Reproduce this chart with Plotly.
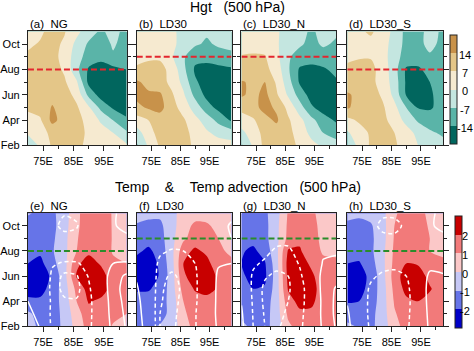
import plotly.graph_objects as go

# ---------------- data ----------------
lon = [70, 74, 78, 82, 86, 90, 94, 98, 102.5]
# rows below are listed from Nov (top row of a panel) down to Feb
months_top_down = [11, 10, 9, 8, 7, 6, 5, 4, 3, 2]

panel_names = ["NG", "LD30", "LD30_N", "LD30_S"]
top_letters = ["(a)", "(b)", "(c)", "(d)"]
bottom_letters = ["(e)", "(f)", "(g)", "(h)"]
onset_month = [8, 9, 9, 8]          # dashed horizontal reference line (Aug / Sep)

month_ticks = [2, 4, 6, 8, 10]
month_labels = ["Feb", "Apr", "Jun", "Aug", "Oct"]
month_minor = [3, 5, 7, 9]
lon_ticks = [75, 85, 95]
lon_labels = ["75E", "85E", "95E"]
lon_minor = [80, 90, 100]

hgt_levels = [-14, -7, 0, 7, 14]
temp_levels = [-2, -1, 0, 1, 2]
adv_neg_levels = [-2, -1]
adv_pos_levels = [1, 2]

hgt_NG = [
    [5, 6, 9, 7.5, 2, -4, -8, -5, -9],
    [6, 7.5, 9, 6, -2, -8, -11, -6, -10],
    [8, 9, 9, 5, -4, -10, -12, -8, -11],
    [9, 10, 10, 6, -5, -15, -17, -16, -14],
    [9, 10, 11, 8, 1, -16, -18, -17, -16],
    [8, 9, 12, 10, 5, -9, -17, -18, -17],
    [8, 10, 14.5, 11, 8, 1, -9, -15, -17],
    [5, 6, 16, 11, 9, 5, -1, -7, -13],
    [1, 4, 9, 10, 9, 6, 3, 0, -6],
    [-5, 1, 8, 10, 9, 5, 3, 2, 1],
]
hgt_LD30 = [
    [4, 4, 4, 2, -3, -5, -6, -5, -4],
    [4, 5, 5, 2, -3, -6, -8, -6, -5],
    [5, 6, 6, 1, -6, -12, -11, -10, -9],
    [8, 9, 9, 5, -5, -15, -17, -16, -15],
    [15, 12, 10, 5, -2, -13, -17, -18, -17],
    [16, 15, 15, 8, 1, -9, -16, -18, -17],
    [12, 15, 16, 10, 4, -3, -11, -16, -17],
    [4, 7, 11, 11, 8, 2, -3, -9, -15],
    [-3, 4, 10, 11, 9, 5, 1, -2, -4],
    [-8, 1, 8, 11, 9, 6, 4, 3, 3],
]
hgt_LD30_N = [
    [3, 3, 3, 1, -3, -5, -8, -5, -6],
    [4, 4, 4, 1, -4, -6, -9, -6, -8],
    [7.5, 8, 7.5, 2, -6, -10, -11, -10, -9],
    [10, 10, 9, 4, -6, -15, -16, -15, -12],
    [14.5, 13, 14, 6, -4, -15, -18, -16, -15],
    [15, 12, 16, 8, -1, -10, -17, -18, -16],
    [9, 12, 16, 13, 5, -4, -13, -17, -17],
    [4, 6, 12, 15, 8, 2, -5, -11, -15],
    [-2, 4, 9, 11, 9, 4, -2, -7, -10],
    [-8, 1, 9, 10, 9, 6, 2, -1, -4],
]
hgt_LD30_S = [
    [4, 6, 8, 4, -2, -9, -9, -5, -8],
    [4, 5, 5, 3, -3, -9, -9, -5, -9],
    [6, 6.5, 6.5, 3, -4, -10, -11, -8, -10],
    [8, 9, 9, 4, -4, -15, -15, -12, -11],
    [10, 10, 9, 4, -3, -15, -17, -14, -12],
    [15, 12, 10, 6, -2, -14.5, -18, -15, -11],
    [15, 11, 10, 8, 2, -7, -14.5, -15, -11],
    [5, 8, 9, 9, 4, -2, -8, -10, -9],
    [-1, 4, 8, 9, 7, 3, -2, -6, -8],
    [-6, 2, 8, 9, 8, 4, 0, -3, -5],
]

temp_NG = [
    [-0.9, -1.2, -1.2, -0.5, 0.8, 1.5, 1.6, 0.9, 0.6],
    [-1.5, -1.5, -1.3, -0.4, 0.8, 1.6, 1.7, 0.9, 0.6],
    [-1.6, -1.6, -1.2, -0.3, 0.9, 1.7, 1.8, 0.9, 0.6],
    [-1.7, -1.8, -1.1, -0.3, 1.0, 1.8, 1.7, 0.9, 0.7],
    [-2.0, -2.3, -1.3, -0.4, 1.8, 2.4, 1.9, 1.2, 1.0],
    [-2.6, -2.6, -1.8, -0.4, 2.1, 2.6, 2.4, 1.5, 1.3],
    [-2.4, -2.4, -1.6, -0.5, 1.3, 2.4, 2.5, 1.6, 1.3],
    [-1.8, -1.8, -1.5, -0.6, 1.0, 2.1, 1.8, 1.5, 1.3],
    [-0.8, -1.4, -1.5, -0.7, 0.6, 1.6, 1.7, 1.3, 1.0],
    [-0.6, -1.2, -1.4, -0.8, 0.4, 1.4, 1.6, 0.9, 0.6],
]
temp_LD30 = [
    [-0.6, -0.7, -0.8, -0.3, 0.4, 0.6, 0.7, 0.6, 0.5],
    [-1.1, -1.3, -1.2, -0.4, 0.6, 1.2, 1.1, 0.8, 0.6],
    [-1.5, -1.6, -1.4, -0.3, 0.8, 1.5, 1.5, 1.0, 0.7],
    [-1.8, -2.2, -1.6, -0.3, 1.6, 2.2, 1.8, 1.1, 0.9],
    [-2.4, -2.6, -1.8, -0.4, 2.0, 2.6, 2.3, 1.4, 1.1],
    [-2.5, -2.6, -1.9, -0.5, 1.8, 2.6, 2.6, 1.8, 1.3],
    [-2.1, -2.1, -1.7, -0.5, 1.4, 2.1, 2.3, 1.9, 1.4],
    [-1.7, -1.6, -1.5, -0.6, 1.0, 1.6, 1.7, 1.5, 1.3],
    [-1.5, -1.6, -1.5, -0.6, 0.8, 1.5, 1.6, 1.4, 1.2],
    [-1.3, -1.2, -0.9, -0.6, 0.6, 1.3, 1.5, 1.4, 1.2],
]
temp_LD30_N = [
    [-1.3, -1.4, -1.2, -0.4, 1.1, 1.4, 1.1, 0.8, 0.6],
    [-1.5, -1.6, -1.3, -0.3, 1.2, 1.6, 1.2, 0.8, 0.7],
    [-1.6, -1.7, -1.3, -0.3, 1.3, 1.8, 1.3, 0.8, 0.8],
    [-1.9, -2.2, -1.6, -0.3, 2.1, 2.1, 1.4, 0.9, 0.9],
    [-2.0, -2.6, -2.1, -0.4, 2.4, 2.5, 1.8, 1.2, 1.1],
    [-1.8, -2.4, -2.2, -0.5, 2.3, 2.7, 2.2, 1.4, 1.2],
    [-1.7, -2.0, -1.9, -0.5, 2.1, 2.6, 2.4, 1.5, 1.3],
    [-1.5, -1.6, -1.5, -0.5, 1.6, 2.3, 2.2, 1.5, 1.3],
    [-1.2, -1.4, -1.4, -0.5, 1.2, 1.8, 1.8, 1.4, 1.2],
    [-0.8, -1.2, -1.3, -0.6, 0.8, 1.4, 1.5, 1.3, 1.1],
]
temp_LD30_S = [
    [-0.7, -0.8, -0.7, -0.3, 0.9, 1.3, 1.3, 0.8, 0.6],
    [-1.2, -1.3, -1.1, -0.4, 1.0, 1.4, 1.4, 0.9, 0.7],
    [-1.4, -1.5, -1.2, -0.4, 1.1, 1.5, 1.5, 1.0, 0.8],
    [-1.5, -1.6, -1.2, -0.3, 1.2, 1.6, 1.6, 1.0, 0.9],
    [-2.0, -2.1, -1.4, -0.3, 1.3, 2.0, 1.9, 1.3, 1.1],
    [-2.6, -2.5, -1.7, -0.4, 1.5, 2.5, 2.5, 1.7, 1.3],
    [-2.5, -2.4, -1.6, -0.5, 1.3, 2.3, 2.6, 2.1, 1.4],
    [-2.1, -2.0, -1.5, -0.5, 1.1, 1.8, 2.0, 1.7, 1.3],
    [-1.4, -1.5, -1.3, -0.5, 0.9, 1.5, 1.6, 1.4, 1.2],
    [-0.8, -1.1, -1.2, -0.6, 0.7, 1.3, 1.4, 1.3, 1.1],
]

adv_NG = [
    [0, 0, -0.3, -0.9, -0.8, -0.2, 0.5, 0.9, 1.3],
    [0, 0, -0.6, -1.4, -1.1, -0.2, 0.4, 0.9, 1.3],
    [0, 0, -0.4, -0.5, -0.6, -0.1, 0.3, 0.6, 0.8],
    [0, 0, -0.3, -0.4, -0.3, 0, 0.2, 0.3, 0.4],
    [0.2, 0, -0.9, -1.1, -1.1, -0.7, 0.3, 1.0, 1.1],
    [0.4, 0.2, -1.2, -2.3, -2.1, -0.9, 0.4, 1.5, 2.2],
    [0.6, 0.1, -1.3, -2.4, -2.3, -1.2, 0.3, 1.6, 2.4],
    [1.0, 0.1, -1.2, -1.8, -1.9, -1.4, 0.2, 1.5, 2.3],
    [1.5, 0.4, -1.3, -1.6, -1.7, -1.4, 0.2, 1.4, 2.2],
    [1.9, 0.9, -1.3, -1.5, -1.6, -1.3, 0.1, 1.3, 2.1],
]
adv_LD30 = [
    [0, 0, 0, -0.2, -0.3, 0, 0.3, 0.5, 0.8],
    [0, 0, 0, -0.3, -0.4, 0, 0.4, 0.7, 1.1],
    [0, 0, -0.2, -0.4, -0.5, -0.2, 0.3, 0.6, 1.0],
    [0.2, 0, -0.8, -1.1, -1.0, -0.6, 0.2, 0.6, 0.8],
    [0.6, 0, -1.3, -1.6, -1.4, -1.0, 0.1, 0.9, 1.0],
    [0.9, 0.2, -1.6, -2.2, -1.7, -1.2, 0, 1.2, 1.3],
    [1.1, 0.3, -1.8, -2.4, -1.8, -1.2, -0.1, 1.3, 1.4],
    [1.3, 0.3, -1.9, -2.4, -1.7, -1.2, 0, 1.3, 1.5],
    [1.4, 0.4, -2.0, -2.3, -1.6, -1.1, 0.1, 1.3, 1.5],
    [1.5, 0.5, -2.0, -2.2, -1.6, -1.1, 0.1, 1.2, 1.5],
]
adv_LD30_N = [
    [0, 0, 0, -0.2, -0.3, -0.1, 0.2, 0.4, 0.5],
    [0, 0, -0.1, -0.3, -0.4, -0.2, 0.2, 0.5, 0.6],
    [0, -0.1, -0.3, -0.6, -0.7, -0.4, 0.1, 0.5, 0.6],
    [0, -0.3, -0.7, -1.2, -1.2, -0.6, 0.1, 0.8, 0.9],
    [0.1, -0.8, -1.2, -1.7, -1.6, -0.9, 0, 1.1, 1.2],
    [0.3, -1.2, -1.9, -2.2, -2.0, -1.2, -0.1, 1.4, 1.6],
    [0.6, -1.3, -2.2, -2.4, -2.1, -1.5, -0.2, 1.4, 2.1],
    [0.9, -1.2, -2.2, -2.3, -2.0, -1.5, -0.2, 1.3, 2.2],
    [1.2, -1.1, -2.1, -2.2, -1.9, -1.4, -0.1, 1.3, 2.2],
    [1.4, -1.0, -2.0, -2.1, -1.8, -1.3, 0, 1.2, 2.1],
]
adv_LD30_S = [
    [0, 0, -0.3, -0.8, -0.8, -0.3, 0.3, 0.8, 1.3],
    [0, 0, -0.6, -1.3, -1.3, -0.8, 0.2, 0.8, 1.4],
    [0, 0, -0.4, -0.7, -0.8, -0.5, 0, 0.4, 0.6],
    [0, 0, -0.2, -0.3, -0.3, -0.2, 0, 0.2, 0.3],
    [0.1, 0, -0.3, -0.6, -0.7, -0.5, 0.2, 0.7, 0.6],
    [0.3, -0.1, -0.8, -1.2, -1.3, -1.0, 0.2, 1.2, 1.1],
    [0.6, -0.2, -1.2, -1.7, -1.8, -1.4, 0.1, 1.4, 1.3],
    [0.9, -0.2, -1.3, -1.8, -1.9, -1.5, 0, 1.4, 1.3],
    [1.2, -0.2, -1.3, -1.8, -1.8, -1.4, 0, 1.3, 1.2],
    [1.4, -0.1, -1.2, -1.7, -1.7, -1.3, 0, 1.2, 1.2],
]

hgt_fields = [hgt_NG, hgt_LD30, hgt_LD30_N, hgt_LD30_S]
temp_fields = [temp_NG, temp_LD30, temp_LD30_N, temp_LD30_S]
adv_fields = [adv_NG, adv_LD30, adv_LD30_N, adv_LD30_S]

# ---------------- styling ----------------
W, H = 474, 351
FONT = "Liberation Sans, Arial, Helvetica, sans-serif"
HGT_COLORS = ["#01665e", "#5ab4a8", "#c4e6e0", "#f6ead0", "#e4c688", "#c8924a"]
TEMP_COLORS = ["#0000c8", "#6674e8", "#c6c8f6", "#fbc8c8", "#f27a7a", "#c80000"]
cols_px = [(27, 126), (136, 231), (241, 336), (347, 443)]
rows_px = [(32, 148), (217, 332)]
XR = [70, 102.5]
YR = [2, 11]
# colour bars: (left px, top px, bottom px, thickness px)
cbars_px = [(450, 36, 147, 7), (455, 220, 334, 7)]
CB_LABEL_X = 465


def scale(colors):
    return [[i / (len(colors) - 1), c] for i, c in enumerate(colors)]


months_asc = months_top_down[::-1]

fig = go.Figure()
layout = dict(
    width=W, height=H, margin=dict(l=0, r=0, t=0, b=0),
    paper_bgcolor="white", plot_bgcolor="white",
    font=dict(family=FONT, size=11, color="black"),
    showlegend=False,
)
ann = []

for k in range(8):
    r, c = divmod(k, 4)
    n = k + 1
    xa = "x" if n == 1 else f"x{n}"
    ya = "y" if n == 1 else f"y{n}"
    x0, x1 = cols_px[c]
    y0, y1 = rows_px[r]
    if r == 0:
        z = hgt_fields[c][::-1]
        lev = hgt_levels
        colors = HGT_COLORS
        hl_color = "#e3262e"
    else:
        z = temp_fields[c][::-1]
        lev = temp_levels
        colors = TEMP_COLORS
        hl_color = "#2a8c2a"
    step = lev[1] - lev[0]
    zmin, zmax = lev[0] - step, lev[-1] + step
    cb = None
    show = (c == 3)
    if show:
        bx, bt, bb, bw = cbars_px[r]
        cb = dict(thickness=bw, thicknessmode="pixels", len=(bb - bt) / H, lenmode="fraction",
                  x=bx / W, xanchor="left", xpad=0, y=1 - bt / H, yanchor="top", ypad=0,
                  outlinewidth=1, outlinecolor="#222", tickvals=lev, ticks="",
                  showticklabels=False)
        # centred colour-bar labels placed on the bar's own value scale
        for v in lev:
            ypx = bt + (zmax - v) / (zmax - zmin) * (bb - bt) + 1.5
            ann.append(dict(text=str(v), x=CB_LABEL_X / W, y=1 - ypx / H, xref="paper", yref="paper",
                            xanchor="center", yanchor="middle", showarrow=False,
                            font=dict(size=11, family=FONT)))
    fig.add_trace(go.Contour(
        x=lon, y=months_asc, z=z, xaxis=xa, yaxis=ya,
        colorscale=scale(colors), zauto=False, zmin=zmin, zmax=zmax,
        autocontour=False,
        contours=dict(start=lev[0], end=lev[-1], size=step, coloring="fill", showlines=False),
        line=dict(width=0, smoothing=0.8),
        showscale=show, colorbar=cb, hoverinfo="skip",
    ))
    if r == 1:
        za = adv_fields[c][::-1]
        fig.add_trace(go.Contour(
            x=lon, y=months_asc, z=za, xaxis=xa, yaxis=ya, autocontour=False,
            contours=dict(start=adv_neg_levels[0], end=adv_neg_levels[-1], size=1, coloring="none"),
            line=dict(color="white", width=1.5, dash="4px,3px", smoothing=0.8),
            showscale=False, hoverinfo="skip",
        ))
        fig.add_trace(go.Contour(
            x=lon, y=months_asc, z=za, xaxis=xa, yaxis=ya, autocontour=False,
            contours=dict(start=adv_pos_levels[0], end=adv_pos_levels[-1], size=1, coloring="none"),
            line=dict(color="white", width=1.5, smoothing=0.8),
            showscale=False, hoverinfo="skip",
        ))
    m = onset_month[c]
    fig.add_trace(go.Scatter(
        x=XR, y=[m, m], xaxis=xa, yaxis=ya, mode="lines",
        line=dict(color=hl_color, width=2, dash="6px,3px"), hoverinfo="skip",
    ))

    axcommon = dict(showgrid=False, zeroline=False, showline=True, linecolor="#222", linewidth=1,
                    ticks="outside", ticklen=5, tickwidth=1, tickcolor="#222",
                    tickfont=dict(size=11, family=FONT))
    layout["xaxis" if n == 1 else f"xaxis{n}"] = dict(
        domain=[x0 / W, x1 / W], range=XR, anchor=ya, mirror=True,
        tickmode="array", tickvals=lon_ticks, ticktext=lon_labels,
        minor=dict(tickmode="array", tickvals=lon_minor, ticks="outside", ticklen=3, tickcolor="#222"),
        **axcommon)
    layout["yaxis" if n == 1 else f"yaxis{n}"] = dict(
        domain=[1 - y1 / H, 1 - y0 / H], range=YR, anchor=xa, mirror="ticks",
        tickmode="array", tickvals=month_ticks, ticktext=month_labels, showticklabels=(c == 0),
        minor=dict(tickmode="array", tickvals=month_minor, ticks="outside", ticklen=3, tickcolor="#222"),
        **axcommon)

NB = "\u00a0"
ann.append(dict(text="Hgt" + NB * 3 + "(500 hPa)", x=237 / W, y=1 - 7.5 / H, xref="paper", yref="paper",
                xanchor="center", yanchor="middle", showarrow=False, font=dict(size=14, family=FONT)))
ann.append(dict(text="Temp" + NB * 4 + "&" + NB * 4 + "Temp advection" + NB * 3 + "(500 hPa)",
                x=237 / W, y=1 - 190.5 / H, xref="paper", yref="paper",
                xanchor="center", yanchor="middle", showarrow=False, font=dict(size=14, family=FONT)))
for r, letters in enumerate([top_letters, bottom_letters]):
    ylab = 24 if r == 0 else 210
    for c in range(4):
        ann.append(dict(text=letters[c] + NB * 2 + panel_names[c], x=cols_px[c][0] / W, y=1 - ylab / H,
                        xref="paper", yref="paper", xanchor="left", yanchor="middle", showarrow=False,
                        font=dict(size=11.5, family=FONT)))
layout["annotations"] = ann
fig.update_layout(**layout)
fig.write_html("out.html")
